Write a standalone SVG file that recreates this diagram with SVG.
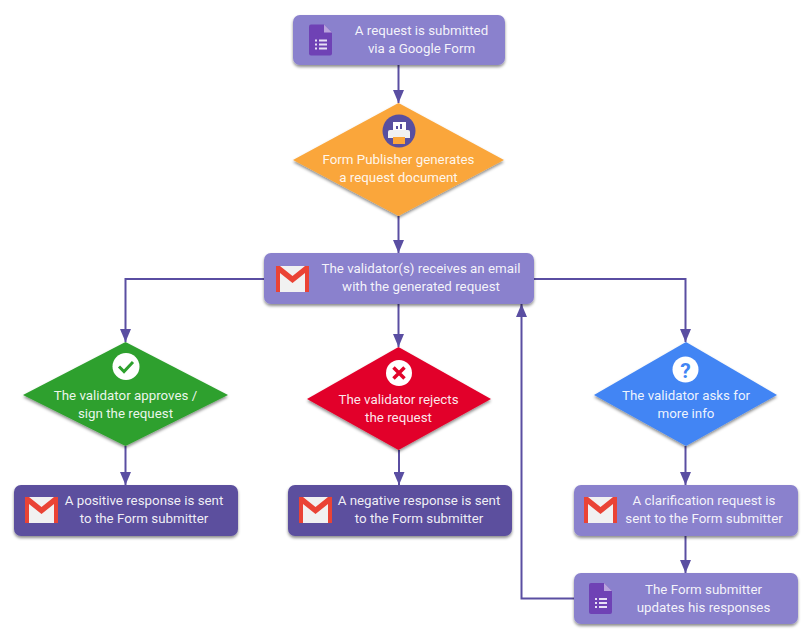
<svg xmlns="http://www.w3.org/2000/svg" width="811" height="639" viewBox="0 0 811 639">
<style>
.t{font-family:Roboto,"Liberation Sans",sans-serif;font-size:13.33px;fill:#fff;fill-opacity:.92;text-anchor:middle}
.light{fill:#8a81cd}
.dark{fill:#5b4f9e}
.c{fill:none;stroke:#5a4ea2;stroke-width:2}
</style>
<defs>
<filter id="s" x="-10%" y="-20%" width="120%" height="150%"><feDropShadow dx="0" dy="2" stdDeviation="1.800" flood-color="#000" flood-opacity=".45"/></filter>
<marker id="b" markerUnits="userSpaceOnUse" markerWidth="13" markerHeight="11" refX="13" refY="5.500" orient="auto" viewBox="0 0 13 11"><path d="M0 0L13 5.500L0 11Z" fill="#5a4ea2"/></marker>
<g id="gmail">
<rect x="0" y="0" width="33" height="26" fill="#f1f1f1"/>
<path d="M0 0H4L16.500 10L29 0H33V26H29V7L16.500 17L4 7V26H0Z" fill="#ea4335"/>
</g>
<g id="forms">
<path d="M2 0H15L23 8V29Q23 31 21 31H2Q0 31 0 29V2Q0 0 2 0Z" fill="#6f42b5"/>
<path d="M15 0L23 8H15Z" fill="#b9a4dd"/>
<path d="M6 15h2v2h-2zM10 15h8v2h-8zM6 19h2v2h-2zM10 19h8v2h-8zM6 23h2v2h-2zM10 23h8v2h-8z" fill="#e8e0f5"/>
</g>
</defs>
<g id="connectors">
<path class="c" marker-end="url(#b)" d="M398.500 65V103"/>
<path class="c" marker-end="url(#b)" d="M398.500 216V253"/>
<path class="c" marker-end="url(#b)" d="M264 279H125.500V342"/>
<path class="c" marker-end="url(#b)" d="M398.500 304V347"/>
<path class="c" marker-end="url(#b)" d="M534 279H685.500V342"/>
<path class="c" marker-end="url(#b)" d="M125.500 446V485"/>
<path class="c" marker-end="url(#b)" d="M399 450V485"/>
<path class="c" marker-end="url(#b)" d="M685.500 446V485"/>
<path class="c" marker-end="url(#b)" d="M685.500 536V573"/>
<path class="c" marker-end="url(#b)" d="M574 598.500H521.500V304"/>
</g>
<g id="n1">
<rect class="light" x="293" y="15" width="212" height="50" rx="7" filter="url(#s)"/>
<use href="#forms" x="309" y="24.500"/>
<text class="t" x="421.500" y="35">A request is submitted</text>
<text class="t" x="421.500" y="53">via a Google Form</text>
</g>
<g id="n2">
<path d="M398.500 103L504 160L398.500 216L293 160Z" fill="#faa63a" filter="url(#s)"/>
<circle cx="399" cy="131" r="16.500" fill="#584fa0"/>
<path d="M393 122H406V131H393Z" fill="#fff"/>
<path d="M396 129v-3h2v3zM400 129v-5h2v5z" fill="#584fa0"/>
<path d="M390 130H408Q410 130 410 132V138H388V132Q388 130 390 130Z" fill="#f1f1f1"/>
<path d="M393 137H405V144H393Z" fill="#faa63a"/>
<text class="t" x="398.500" y="164">Form Publisher generates</text>
<text class="t" x="398.500" y="182">a request document</text>
</g>
<g id="n3">
<rect class="light" x="264" y="253" width="270" height="51" rx="7" filter="url(#s)"/>
<use href="#gmail" x="276" y="266"/>
<text class="t" x="421" y="273">The validator(s) receives an email</text>
<text class="t" x="421" y="291">with the generated request</text>
</g>
<g id="n4">
<path d="M125.500 342L228 395L125.500 446L23 395Z" fill="#2da02d" filter="url(#s)"/>
<circle cx="126" cy="366.500" r="13.500" fill="#fff"/>
<path d="M119 366.500L124 371.500L133 362" fill="none" stroke="#2da02d" stroke-width="3"/>
<text class="t" x="125.500" y="400">The validator approves /</text>
<text class="t" x="125.500" y="418">sign the request</text>
</g>
<g id="n5">
<path d="M398.500 347L491 399L398.500 450L307 399Z" fill="#e2032a" filter="url(#s)"/>
<circle cx="399" cy="373" r="13" fill="#fff"/>
<path d="M393.500 367.500L404.500 378.500M404.500 367.500L393.500 378.500" fill="none" stroke="#e2032a" stroke-width="3.500"/>
<text class="t" x="398.500" y="404">The validator rejects</text>
<text class="t" x="398.500" y="422">the request</text>
</g>
<g id="n6">
<path d="M686 342L777 395L686 446L594 395Z" fill="#4285f4" filter="url(#s)"/>
<circle cx="685.500" cy="369.500" r="13" fill="#fff"/>
<text x="685.500" y="377.500" style="font-family:Roboto,'Liberation Sans',sans-serif;font-size:21px;font-weight:700;fill:#4285f4;text-anchor:middle">?</text>
<text class="t" x="686" y="400">The validator asks for</text>
<text class="t" x="686" y="418">more info</text>
</g>
<g id="n7">
<rect class="dark" x="14" y="485" width="224" height="51" rx="7" filter="url(#s)"/>
<use href="#gmail" x="25" y="497"/>
<text class="t" x="144" y="505">A positive response is sent</text>
<text class="t" x="144" y="523">to the Form submitter</text>
</g>
<g id="n8">
<rect class="dark" x="288" y="485" width="224" height="51" rx="7" filter="url(#s)"/>
<use href="#gmail" x="299" y="497"/>
<text class="t" x="419" y="505">A negative response is sent</text>
<text class="t" x="419" y="523">to the Form submitter</text>
</g>
<g id="n9">
<rect class="light" x="574" y="485" width="224" height="51" rx="7" filter="url(#s)"/>
<use href="#gmail" x="584" y="497"/>
<text class="t" x="704" y="505">A clarification request is</text>
<text class="t" x="704" y="523">sent to the Form submitter</text>
</g>
<g id="n10">
<rect class="light" x="574" y="573" width="224" height="51" rx="7" filter="url(#s)"/>
<use href="#forms" x="589" y="583"/>
<text class="t" x="703.500" y="594">The Form submitter</text>
<text class="t" x="703.500" y="612">updates his responses</text>
</g>
</svg>
